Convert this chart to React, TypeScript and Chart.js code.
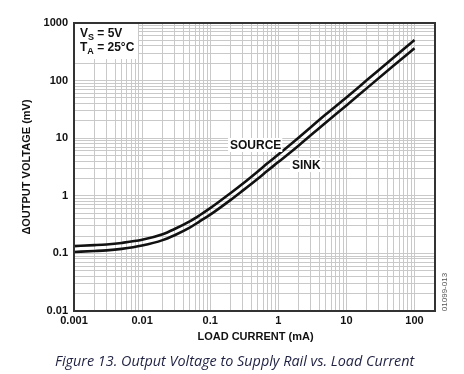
import React, { useEffect, useRef } from "react";
import { Chart, registerables } from "chart.js";

Chart.register(...registerables);

// Load current (mA)
const LOAD_CURRENT = [0.001, 0.002, 0.003, 0.005, 0.01, 0.02, 0.03, 0.05, 0.07, 0.1, 0.2, 0.3, 0.5, 0.7, 1, 2, 5, 10, 20, 50, 100];
// ΔOutput voltage (mV)
const SOURCE_MV = [0.134, 0.139, 0.143, 0.152, 0.172, 0.215, 0.265, 0.36, 0.46, 0.61, 1.12, 1.62, 2.65, 3.7, 5.2, 10.3, 26, 51, 102, 255, 507];
const SINK_MV = [0.106, 0.11, 0.113, 0.12, 0.137, 0.17, 0.207, 0.28, 0.36, 0.47, 0.85, 1.23, 1.98, 2.75, 3.85, 7.5, 18.8, 37, 74, 184, 365];

const X_DECADES = [0.001, 0.01, 0.1, 1, 10, 100];
const X_TICK_LABELS = ["0.001", "0.01", "0.1", "1", "10", "100"];
const Y_DECADES = [0.01, 0.1, 1, 10, 100, 1000];
const Y_TICK_LABELS = ["0.01", "0.1", "1", "10", "100", "1000"];

const X_MIN = 0.001;
const X_MAX = 200;
const Y_MIN = 0.01;
const Y_MAX = 1000;

const X_TITLE = "LOAD CURRENT (mA)";
const Y_TITLE = "\u0394OUTPUT VOLTAGE (mV)";
const CAPTION = "Figure 13. Output Voltage to Supply Rail vs. Load Current";
const CODE = "01099-013";

const FONT = "'Liberation Sans', Arial, sans-serif";

function gridValues(min: number, max: number): number[] {
  const out: number[] = [];
  const e0 = Math.floor(Math.log10(min) + 1e-9);
  const e1 = Math.ceil(Math.log10(max) - 1e-9);
  for (let e = e0; e <= e1; e++) {
    for (let m = 1; m <= 9; m++) {
      const v = parseFloat((m * Math.pow(10, e)).toPrecision(6));
      if (v >= min * 0.9999 && v <= max * 1.0001) out.push(v);
    }
  }
  return out;
}

function labelFor(v: number, decades: number[], labels: string[]): string {
  for (let i = 0; i < decades.length; i++) {
    if (Math.abs(v - decades[i]) / decades[i] < 1e-6) return labels[i];
  }
  return "";
}

const annotations = {
  id: "annotations",
  afterDatasetsDraw(chart: any) {
    const ctx = chart.ctx as CanvasRenderingContext2D;
    const a = chart.chartArea;
    ctx.save();
    // Conditions box
    ctx.fillStyle = "#fff";
    ctx.fillRect(a.left + 1, a.top + 1, 63, 35);
    ctx.fillStyle = "#111";
    ctx.textBaseline = "alphabetic";
    ctx.textAlign = "left";
    const drawSub = (x: number, y: number, main: string, sub: string, rest: string) => {
      ctx.font = `bold 12px ${FONT}`;
      ctx.fillText(main, x, y);
      let w = ctx.measureText(main).width;
      ctx.font = `bold 9px ${FONT}`;
      ctx.fillText(sub, x + w, y + 3);
      w += ctx.measureText(sub).width;
      ctx.font = `bold 12px ${FONT}`;
      ctx.fillText(rest, x + w, y);
    };
    drawSub(a.left + 6, 37, "V", "S", " = 5V");
    drawSub(a.left + 6, 51, "T", "A", " = 25\u00B0C");

    // Curve labels
    ctx.font = `bold 12px ${FONT}`;
    const label = (txt: string, x: number, y: number) => {
      const w = ctx.measureText(txt).width;
      ctx.fillStyle = "#fff";
      ctx.fillRect(x - 2, y - 7, w + 3, 14);
      ctx.fillStyle = "#111";
      ctx.textBaseline = "middle";
      ctx.fillText(txt, x, y + 0.5);
    };
    label("SOURCE", 230, 145);
    label("SINK", 292, 165);
    ctx.restore();
  },
  afterDraw(chart: any) {
    const ctx = chart.ctx as CanvasRenderingContext2D;
    const a = chart.chartArea;
    ctx.save();
    // Frame
    ctx.strokeStyle = "#333";
    ctx.lineWidth = 2;
    ctx.strokeRect(a.left, a.top, a.right - a.left, a.bottom - a.top);

    // Axis titles
    ctx.fillStyle = "#111";
    ctx.font = `bold 11px ${FONT}`;
    ctx.textAlign = "center";
    ctx.textBaseline = "middle";
    ctx.fillText(X_TITLE, (a.left + a.right) / 2 + 1, 337);
    ctx.save();
    ctx.translate(27, (a.top + a.bottom) / 2);
    ctx.rotate(-Math.PI / 2);
    ctx.fillText(Y_TITLE, 0, 0);
    ctx.restore();

    // Figure code
    ctx.save();
    ctx.translate(445, 292);
    ctx.rotate(-Math.PI / 2);
    ctx.font = `8px ${FONT}`;
    ctx.fillStyle = "#555";
    ctx.fillText(CODE, 0, 0);
    ctx.restore();

    // Caption
    ctx.font = `italic 14.4px 'Open Sans', sans-serif`;
    ctx.fillStyle = "#1f2142";
    ctx.textAlign = "left";
    ctx.textBaseline = "alphabetic";
    ctx.fillText(CAPTION, 55, 366);
    ctx.restore();
  },
};

export default function App() {
  const ref = useRef<HTMLCanvasElement | null>(null);
  useEffect(() => {
    if (!ref.current) return;
    const xGrid = gridValues(X_MIN, X_MAX);
    const yGrid = gridValues(Y_MIN, Y_MAX);
    const chart = new Chart(ref.current, {
      type: "line",
      data: {
        labels: LOAD_CURRENT,
        datasets: [
          {
            label: "SOURCE",
            data: LOAD_CURRENT.map((x, i) => ({ x, y: SOURCE_MV[i] })),
            borderColor: "#111",
            borderWidth: 2.6,
            pointRadius: 0,
            cubicInterpolationMode: "monotone",
            fill: false,
          },
          {
            label: "SINK",
            data: LOAD_CURRENT.map((x, i) => ({ x, y: SINK_MV[i] })),
            borderColor: "#111",
            borderWidth: 2.6,
            pointRadius: 0,
            cubicInterpolationMode: "monotone",
            fill: false,
          },
        ],
      },
      options: {
        responsive: false,
        animation: false,
        devicePixelRatio: 1,
        layout: { padding: { left: 0, right: 29, top: 23, bottom: 0 } },
        plugins: { legend: { display: false }, tooltip: { enabled: false }, title: { display: false } },
        scales: {
          x: {
            type: "logarithmic",
            min: X_MIN,
            max: X_MAX,
            afterBuildTicks: (s: any) => {
              s.ticks = xGrid.map((v) => ({ value: v }));
            },
            afterFit: (s: any) => {
              s.height = 63;
            },
            ticks: {
              autoSkip: false,
              maxRotation: 0,
              padding: 3,
              color: "#111",
              font: { family: FONT, size: 11, weight: "bold" },
              callback: (v: any) => labelFor(Number(v), X_DECADES, X_TICK_LABELS),
            },
            grid: { color: "#c9c9c9", lineWidth: 1, drawTicks: false },
            border: { display: false },
          },
          y: {
            type: "logarithmic",
            min: Y_MIN,
            max: Y_MAX,
            afterBuildTicks: (s: any) => {
              s.ticks = yGrid.map((v) => ({ value: v }));
            },
            afterFit: (s: any) => {
              s.width = 74;
            },
            ticks: {
              autoSkip: false,
              padding: 6,
              color: "#111",
              font: { family: FONT, size: 11, weight: "bold" },
              callback: (v: any) => labelFor(Number(v), Y_DECADES, Y_TICK_LABELS),
            },
            grid: { color: "#c9c9c9", lineWidth: 1, drawTicks: false },
            border: { display: false },
          },
        },
      },
      plugins: [annotations],
    } as any);
    return () => chart.destroy();
  }, []);
  return (
    <div style={{ position: "fixed", left: 0, top: 0, width: 464, height: 374, background: "#fff" }}>
      <canvas ref={ref} width={464} height={374} style={{ width: 464, height: 374, display: "block" }} />
    </div>
  );
}
